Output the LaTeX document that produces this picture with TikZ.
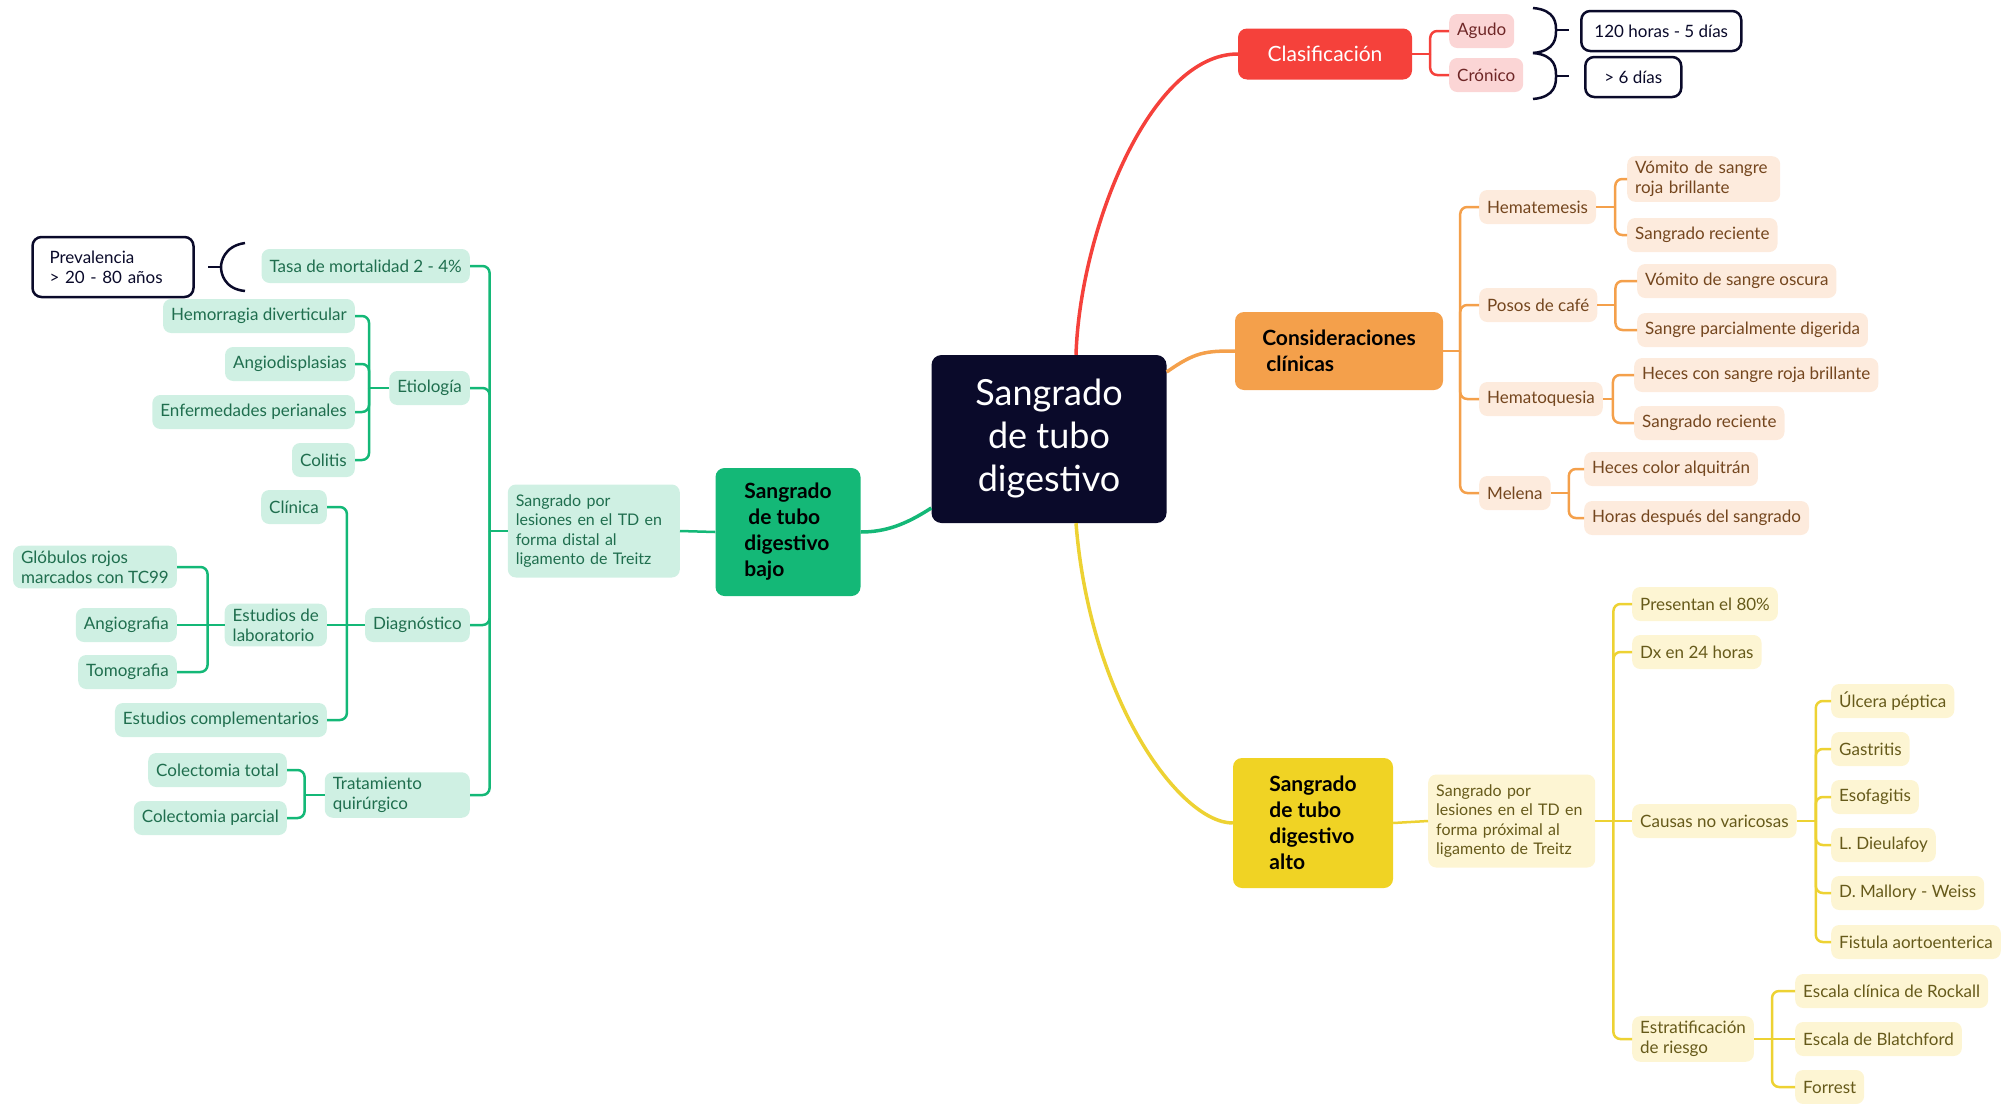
\documentclass[tikz,border=0pt]{standalone}
\usepackage{fontspec}
\setmainfont{Lato}
\usetikzlibrary{positioning}

\definecolor{rootblue}{HTML}{0A0A2A}
\definecolor{bajogreen}{HTML}{14B877}
\definecolor{bajolight}{HTML}{CFF0E3}
\definecolor{bajotext}{HTML}{1F6E4E}
\definecolor{clasred}{HTML}{F5413B}
\definecolor{claslight}{HTML}{FBD5D5}
\definecolor{clastext}{HTML}{6E2626}
\definecolor{consorange}{HTML}{F4A04B}
\definecolor{conslight}{HTML}{FDEBDD}
\definecolor{constext}{HTML}{74461E}
\definecolor{altoyellow}{HTML}{F0D324}
\definecolor{altolight}{HTML}{FDF5D3}
\definecolor{altotext}{HTML}{665A1A}
\definecolor{altoline}{HTML}{EDD233}

\newcommand{\leaffont}{\fontsize{17}{20}\selectfont}
\newcommand{\descfont}{\fontsize{16}{19.5}\selectfont}
\newcommand{\branchfont}{\fontsize{21}{26}\selectfont}
\newcommand{\rootfont}{\fontsize{36}{43}\selectfont}

\begin{document}
\begin{tikzpicture}[
		x=1pt, y=-1pt,
		leaf/.style={
			rectangle,
			rounded corners=8pt,
			inner xsep=8pt,
			inner ysep=5pt,
			minimum height=34pt,
			font=\leaffont,
			align=left
		},
		gleaf/.style={leaf, fill=bajolight, text=bajotext},
		rleaf/.style={leaf, fill=claslight, text=clastext},
		oleaf/.style={leaf, fill=conslight, text=constext},
		yleaf/.style={leaf, fill=altolight, text=altotext},
		desc/.style={font=\descfont, minimum height=93pt},
		branch/.style={
			rectangle,
			rounded corners=9pt,
			font=\branchfont\bfseries,
			align=left
		},
		note/.style={
			rectangle,
			rounded corners=9pt,
			draw=rootblue,
			line width=2.5pt,
			fill=white,
			text=rootblue,
			font=\leaffont,
			align=left,
			inner xsep=12pt,
			minimum height=40pt
		},
		brace/.style={draw=rootblue, line width=2.5pt},
		glink/.style={draw=bajogreen, line width=2.5pt, rounded corners=7pt},
		rlink/.style={draw=clasred, line width=2.5pt, rounded corners=7pt},
		olink/.style={draw=consorange, line width=2.5pt, rounded corners=7pt},
		ylink/.style={draw=altoline, line width=2.5pt, rounded corners=7pt}
		]
		
		\useasboundingbox (0,0) rectangle (2009,1103);
		
		\node[
		rectangle,
		rounded corners=10pt,
		fill=rootblue,
		text=white,
		font=\rootfont,
		align=center,
		minimum width=235pt,
		minimum height=168pt
		] (root) at (1049,439) {Sangrado\\de tubo\\digestivo};
		
		\node[branch, fill=bajogreen, minimum width=145pt, minimum height=128pt] (bajo) at (788,532) {Sangrado\\\hspace*{4pt}de tubo\\digestivo\\bajo};
		
		\node[gleaf, desc, text width=156pt, anchor=east] (bajodesc) at (680,531) {Sangrado por\\lesiones en el TD en\\forma distal al\\ligamento de Treitz};
		
		\node[gleaf, anchor=east] (tasa) at (470,266) {Tasa de mortalidad 2 - 4\%};
		\node[gleaf, anchor=east] (etio) at (470,388) {Etiología};
		\node[gleaf, anchor=east] (diag) at (470,625) {Diagnóstico};
		\node[gleaf, text width=129pt, anchor=east] (trat) at (470,795) {Tratamiento\\quirúrgico};
		
		\node[note, text width=127pt, inner xsep=17pt, minimum height=60pt] (preval) at (113,267) {Prevalencia\\> 20 - 80 años};
		
		\node[gleaf, anchor=east] (hemo) at (355,316) {Hemorragia diverticular};
		\node[gleaf, anchor=east] (angio) at (355,364) {Angiodisplasias};
		\node[gleaf, anchor=east] (enfer) at (355,412) {Enfermedades perianales};
		\node[gleaf, anchor=east] (colitis) at (355,460) {Colitis};
		
		\node[gleaf, anchor=east] (clinica) at (327,507) {Clínica};
		\node[gleaf, anchor=east] (estlab) at (327,625) {Estudios de\\laboratorio};
		\node[gleaf, anchor=east] (estcomp) at (327,720) {Estudios complementarios};
		
		\node[gleaf, anchor=east] (globulos) at (177,567) {Glóbulos rojos\\marcados con TC99};
		\node[gleaf, anchor=east] (angiog) at (177,625) {Angiografia};
		\node[gleaf, anchor=east] (tomo) at (177,672) {Tomografia};
		
		\node[gleaf, anchor=east] (coltot) at (287,770) {Colectomia total};
		\node[gleaf, anchor=east] (colpar) at (287,818) {Colectomia parcial};
		
		\node[branch, fill=clasred, text=white, font=\branchfont, align=center, minimum width=174pt, minimum height=51pt] (clas) at (1325,54) {Clasificación};
		
		\node[rleaf, anchor=west] (agudo) at (1449,31) {Agudo};
		\node[rleaf, anchor=west] (cronico) at (1449,75) {Crónico};
		
		\node[note, anchor=west, minimum width=160pt] (horas) at (1580,31) {120 horas - 5 días};
		\node[note, anchor=west, minimum width=96pt] (seisdias) at (1584,77) {> 6 días};
		
		\node[branch, fill=consorange, minimum width=208pt, minimum height=78pt] (cons) at (1339,351) {Consideraciones\\\hspace*{4pt}clínicas};
		
		\node[oleaf, anchor=west] (hematem) at (1479,207) {Hematemesis};
		\node[oleaf, anchor=west] (posos) at (1479,305) {Posos de café};
		\node[oleaf, anchor=west] (hematoq) at (1479,399) {Hematoquesia};
		\node[oleaf, anchor=west] (melena) at (1479,493) {Melena};
		
		\node[oleaf, anchor=west, text width=137pt] (vomroja) at (1627,179) {Vómito de sangre\\roja brillante};
		\node[oleaf, anchor=west] (sangrec) at (1627,235) {Sangrado reciente};
		\node[oleaf, anchor=west] (vomosc) at (1637,281) {Vómito de sangre oscura};
		\node[oleaf, anchor=west] (sangpar) at (1637,330) {Sangre parcialmente digerida};
		\node[oleaf, anchor=west] (hecesroja) at (1634,375) {Heces con sangre roja brillante};
		\node[oleaf, anchor=west] (sangrecb) at (1634,423) {Sangrado reciente};
		\node[oleaf, anchor=west] (alquitran) at (1584,469) {Heces color alquitrán};
		\node[oleaf, anchor=west] (horasdesp) at (1584,518) {Horas después del sangrado};
		
		\node[branch, fill=altoyellow, minimum width=160pt, minimum height=130pt] (alto) at (1313,823) {Sangrado\\de tubo\\digestivo\\alto};
		
		\node[yleaf, desc, text width=151pt, anchor=west] (altodesc) at (1428,821) {Sangrado por\\lesiones en el TD en\\forma próximal al\\ligamento de Treitz};
		
		\node[yleaf, anchor=west] (presentan) at (1632,604) {Presentan el 80\%};
		\node[yleaf, anchor=west] (dx) at (1632,652) {Dx en 24 horas};
		\node[yleaf, anchor=west] (causas) at (1632,821) {Causas no varicosas};
		\node[yleaf, anchor=west] (estrat) at (1632,1039) {Estratificación\\de riesgo};
		
		\node[yleaf, anchor=west] (ulcera) at (1831,701) {Úlcera péptica};
		\node[yleaf, anchor=west] (gastritis) at (1831,749) {Gastritis};
		\node[yleaf, anchor=west] (esofagitis) at (1831,797) {Esofagitis};
		\node[yleaf, anchor=west] (dieulafoy) at (1831,845) {L. Dieulafoy};
		\node[yleaf, anchor=west] (mallory) at (1831,893) {D. Mallory - Weiss};
		\node[yleaf, anchor=west] (fistula) at (1831,942) {Fistula aortoenterica};
		
		\node[yleaf, anchor=west] (rockall) at (1795,991) {Escala clínica de Rockall};
		\node[yleaf, anchor=west] (blatch) at (1795,1039) {Escala de Blatchford};
		\node[yleaf, anchor=west] (forrest) at (1795,1087) {Forrest};
		
		%%%%%%%%%%
		
		\draw[line width=3.5pt, draw=clasred] ([xshift=27pt]root.north) .. controls (1080,230) and (1150,54) .. (clas.west);
		\draw[line width=3.5pt, draw=consorange] ([yshift=67pt]root.east) .. controls (1195,352) and (1205,351) .. (cons.west);
		\draw[line width=3.5pt, draw=altoline] ([xshift=27pt]root.south) .. controls (1090,700) and (1180,823) .. (alto.west);
		\draw[line width=3.5pt, draw=bajogreen] ([yshift=-69pt]root.west) .. controls (905,525) and (885,532) .. (bajo.east);
		
		\draw[glink] (bajo.west) -- (bajodesc.east);
		\draw[glink] (bajodesc.west) -- ++(-18,0) coordinate (bajobus);
		\draw[glink] (bajobus) |- (tasa.east);
		\draw[glink] (bajobus) |- (etio.east);
		\draw[glink] (bajobus) |- (diag.east);
		\draw[glink] (bajobus) |- (trat.east);
		
		\draw[glink] (etio.west) -- ++(-20,0) coordinate (etiobus);
		\draw[glink] (etiobus) |- (hemo.east);
		\draw[glink] (etiobus) |- (angio.east);
		\draw[glink] (etiobus) |- (enfer.east);
		\draw[glink] (etiobus) |- (colitis.east);
		
		\draw[glink] (diag.west) -- ++(-18,0) coordinate (diagbus);
		\draw[glink] (diagbus) |- (clinica.east);
		\draw[glink] (diagbus) -- (estlab.east);
		\draw[glink] (diagbus) |- (estcomp.east);
		
		\draw[glink] (estlab.west) -- ++(-17,0) coordinate (labbus);
		\draw[glink] (labbus) |- (globulos.east);
		\draw[glink] (labbus) -- (angiog.east);
		\draw[glink] (labbus) |- (tomo.east);
		
		\draw[glink] (trat.west) -- ++(-20,0) coordinate (tratbus);
		\draw[glink] (tratbus) |- (coltot.east);
		\draw[glink] (tratbus) |- (colpar.east);
		
		\draw[brace] (208,267) -- (221,267);
		\draw[brace] (245,243) .. controls (224,246) and (221,262) .. (221,267) .. controls (221,273) and (224,289) .. (245,291);
		
		\draw[rlink] (clas.east) -- ++(18,0) coordinate (clasbus);
		\draw[rlink] (clasbus) |- (agudo.west);
		\draw[rlink] (clasbus) |- (cronico.west);
		
		\draw[brace] (1533,8) .. controls (1556,10) and (1556,24) .. (1556,30) .. controls (1556,37) and (1556,51) .. (1533,53);
		\draw[brace] (1556,30) -- (1569,30);
		\draw[brace] (1533,53) .. controls (1556,55) and (1556,69) .. (1556,76) .. controls (1556,83) and (1556,97) .. (1533,99);
		\draw[brace] (1556,76) -- (1569,76);
		
		\draw[olink] (cons.east) -- ++(17,0) coordinate (consbus);
		\draw[olink] (consbus) |- (hematem.west);
		\draw[olink] (consbus) |- (posos.west);
		\draw[olink] (consbus) |- (hematoq.west);
		\draw[olink] (consbus) |- (melena.west);
		
		\draw[olink] (hematem.east) -- ++(19,0) coordinate (hematembus);
		\draw[olink] (hematembus) |- (vomroja.west);
		\draw[olink] (hematembus) |- (sangrec.west);
		
		\draw[olink] (posos.east) -- ++(18,0) coordinate (pososbus);
		\draw[olink] (pososbus) |- (vomosc.west);
		\draw[olink] (pososbus) |- (sangpar.west);
		
		\draw[olink] (hematoq.east) -- ++(10,0) coordinate (hematoqbus);
		\draw[olink] (hematoqbus) |- (hecesroja.west);
		\draw[olink] (hematoqbus) |- (sangrecb.west);
		
		\draw[olink] (melena.east) -- ++(18,0) coordinate (melenabus);
		\draw[olink] (melenabus) |- (alquitran.west);
		\draw[olink] (melenabus) |- (horasdesp.west);
		
		\draw[ylink] (alto.east) -- (altodesc.west);
		\draw[ylink] (altodesc.east) -- ++(18,0) coordinate (altobus);
		\draw[ylink] (altobus) |- (presentan.west);
		\draw[ylink] (altobus) |- (dx.west);
		\draw[ylink] (altobus) -- (causas.west);
		\draw[ylink] (altobus) |- (estrat.west);
		
		\draw[ylink] (causas.east) -- ++(19,0) coordinate (causasbus);
		\draw[ylink] (causasbus) |- (ulcera.west);
		\draw[ylink] (causasbus) |- (gastritis.west);
		\draw[ylink] (causasbus) |- (esofagitis.west);
		\draw[ylink] (causasbus) |- (dieulafoy.west);
		\draw[ylink] (causasbus) |- (mallory.west);
		\draw[ylink] (causasbus) |- (fistula.west);
		
		\draw[ylink] (estrat.east) -- ++(18,0) coordinate (estratbus);
		\draw[ylink] (estratbus) |- (rockall.west);
		\draw[ylink] (estratbus) -- (blatch.west);
		\draw[ylink] (estratbus) |- (forrest.west);
		
	\end{tikzpicture}
\end{document}
